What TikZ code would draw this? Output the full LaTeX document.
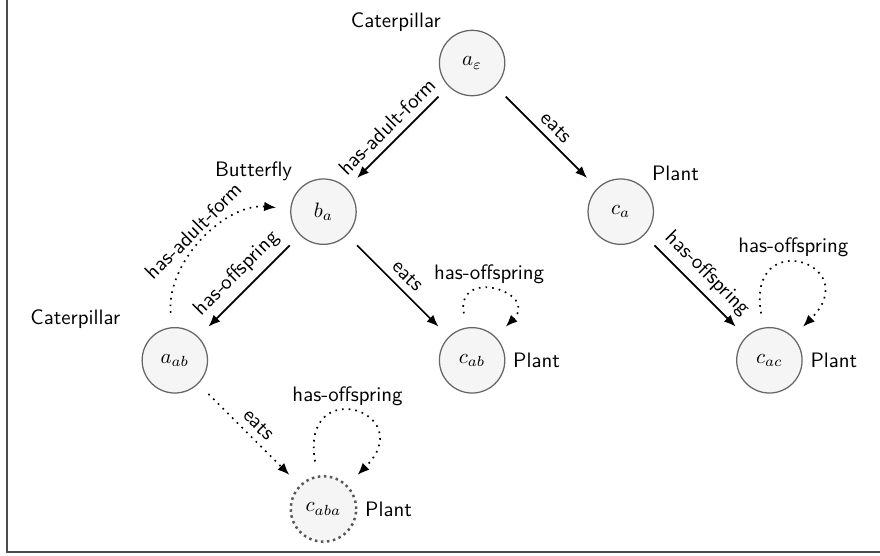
\documentclass[tikz,border=0pt]{standalone}
\usetikzlibrary{arrows.meta}
\begin{document}
\begin{tikzpicture}[
        thick,
        font=\sffamily,
        >={Latex[length=2mm,width=1.6mm]}
    ]
    \tikzset{
        objnode/.style = {circle, draw=black!60, semithick, fill=black!4, minimum size=1.1cm, inner sep=0pt},
        objnoded/.style = {objnode, draw=black!65, line width=1.2pt, dash pattern=on 1.2pt off 1.7pt},
        edgen/.style = {->, thick, shorten <=0.24cm, shorten >=0.24cm},
        edged/.style = {edgen, dash pattern=on 0.8pt off 2.4pt},
        selfloop/.style = {edged, out=100, in=45, min distance=1.75cm},
        lbl/.style = {sloped, above},
        framebox/.style = {black!70, line width=0.9pt},
    }
    \useasboundingbox (0,0) rectangle (14.80,9.35);
    \draw[framebox] (0.12,9.6) -- (0.12,0.07) -- (15.0,0.07);
    %
    \node[objnode, label=above left:Caterpillar] at (7.94,8.29) (ae) {$a_\varepsilon$};
    \node[objnode, label=above left:Butterfly] at (5.44,5.79) (ba) {$b_a$};
    \node[objnode, label=above right:Plant] at (10.44,5.79) (ca) {$c_a$};
    \node[objnode, label={[xshift=-0.39cm]above left:Caterpillar}] at (2.94,3.29) (aab) {$a_{ab}$};
    \node[objnode, label=right:Plant] at (7.94,3.29) (cab) {$c_{ab}$};
    \node[objnode, label=right:Plant] at (12.94,3.29) (cac) {$c_{ac}$};
    \node[objnoded, label=right:Plant] at (5.44,0.79) (caba) {$c_{aba}$};
    %
    \draw[edgen] (ae) edge node[lbl] {has-adult-form} (ba);
    \draw[edgen] (ae) edge node[lbl] {eats} (ca);
    \draw[edgen] (ba) edge node[lbl] {has-offspring} (aab);
    \draw[edgen] (ba) edge node[lbl] {eats} (cab);
    \draw[edgen] (ca) edge node[lbl] {has-offspring} (cac);
    %
    \draw[edged] (aab) edge node[lbl] {eats} (caba);
    \draw[edged] (aab) edge[bend left=50] node[lbl] {has-adult-form} (ba);
    %
    \draw[selfloop, min distance=1.05cm] (cab) edge node[above, pos=0.45] {has-offspring} (cab);
    \draw[selfloop] (cac) edge node[above, pos=0.45] {has-offspring} (cac);
    \draw[selfloop] (caba) edge node[above, pos=0.45] {has-offspring} (caba);
\end{tikzpicture}
\end{document}
